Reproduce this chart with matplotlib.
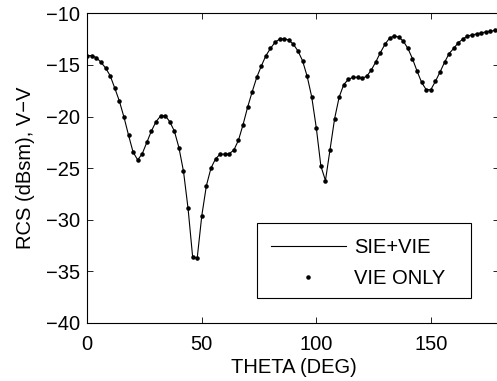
import matplotlib
matplotlib.use("Agg")
import matplotlib.pyplot as plt
from matplotlib.patches import Rectangle
import numpy as np

plt.rcParams['font.family'] = ['Liberation Sans', 'DejaVu Sans']

theta = list(range(0, 181, 2))
rcs = [-14.1, -14.1, -14.3, -14.75, -15.3, -16.05, -17.25, -18.5, -20.05, -21.8,
       -23.45, -24.2, -23.6, -22.5, -21.4, -20.5, -19.95, -19.9, -20.5, -21.4,
       -23.0, -25.3, -28.9, -33.6, -33.7, -29.6, -26.7, -25.0, -24.1, -23.65,
       -23.65, -23.6, -23.25, -22.3, -20.8, -19.1, -17.6, -16.2, -15.1, -14.1,
       -13.4, -12.8, -12.5, -12.45, -12.6, -13.0, -13.65, -14.6, -16.1, -18.1,
       -21.1, -24.8, -26.2, -23.2, -20.2, -18.1, -16.9, -16.4, -16.2, -16.2,
       -16.3, -16.1, -15.5, -14.7, -13.8, -13.0, -12.4, -12.2, -12.3, -12.7,
       -13.4, -14.4, -15.6, -16.7, -17.4, -17.4, -16.6, -15.7, -14.75, -13.9,
       -13.4, -12.85, -12.5, -12.2, -12.1, -12.0, -11.9, -11.8, -11.75, -11.65,
       -11.6]
xticks = [0, 50, 100, 150]
yticks = [-40, -35, -30, -25, -20, -15, -10]

W, H = 497, 381
FS = 14.5
fig = plt.figure(figsize=(W/100, H/100), dpi=100)
ax = fig.add_axes([87.3/W, 58/H, (499.5-87.3)/W, (323-13.3)/H])
ax.plot(theta, rcs, '-', color='black', lw=0.8, label='SIE+VIE')
ax.plot(theta, rcs, '.', color='black', ms=4.5, label='VIE ONLY')
ax.set_xlim(0, 180)
ax.set_ylim(-40, -10)
ax.set_xticks(xticks)
ax.set_yticks(yticks)
ax.tick_params(direction='in', top=True, right=True, length=4, width=0.6, labelsize=FS)
ax.tick_params(axis='x', pad=8.5)
ax.tick_params(axis='y', pad=5)
for s in ax.spines.values():
    s.set_linewidth(0.8)
ax.set_xlabel('THETA (DEG)', fontsize=FS, labelpad=3)
ax.set_ylabel('RCS (dBsm), V\u2212V', fontsize=FS, labelpad=8)

# legend box (layout, MATLAB-style)
bx0, by0, bx1, by1 = 256.7, 223.3, 470.7, 298.3
box = Rectangle((bx0/W, 1 - by1/H), (bx1-bx0)/W, (by1-by0)/H,
                transform=fig.transFigure, facecolor='white',
                edgecolor='black', lw=0.8, zorder=4, clip_on=False)
ax.add_patch(box)
leg = ax.legend(loc='upper left', bbox_to_anchor=(bx0/W, 1 - by0/H), bbox_transform=fig.transFigure,
                frameon=False, fontsize=FS,
                handlelength=3.7, borderpad=0.72, labelspacing=0.6, handletextpad=0.4,
                borderaxespad=0)
leg.set_zorder(5)
fig.savefig('out.png', dpi=100)
